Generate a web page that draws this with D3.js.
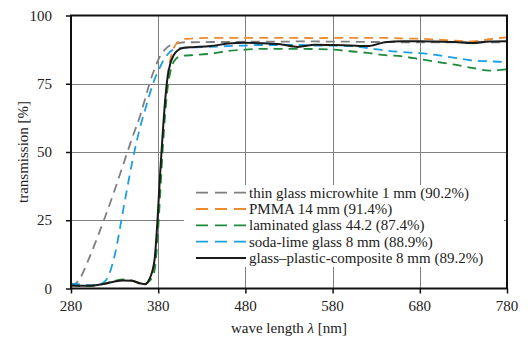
<!DOCTYPE html>
<html><head><meta charset="utf-8">
<style>
@font-face { font-family: "ChartSerif"; src: local("Liberation Serif"), local("LiberationSerif"), local("Tinos"), local("Times New Roman"); font-style: normal; font-weight: 400; }
@font-face { font-family: "ChartSerif"; src: local("Liberation Serif Italic"), local("LiberationSerif-Italic"), local("Tinos Italic"); font-style: italic; font-weight: 400; }
</style>
<script src="https://cdn.jsdelivr.net/npm/d3@7"></script></head>
<body style="margin:0">
<svg id="s" width="528" height="337"></svg>
<script>
// ---- data ----
const wavelengths = [280, 290, 300, 310, 320, 330, 340, 350, 360, 365, 370, 373, 376, 379, 382, 385, 388, 391, 394, 397, 400, 405, 410, 420, 440, 460, 480, 500, 520, 540, 560, 580, 600, 620, 640, 660, 680, 700, 720, 740, 760, 780];

const thinGlass = [0.6, 3.5, 10.5, 18.5, 27, 36, 45.5, 55, 64, 69.5, 75, 78, 80.5, 83, 85, 86.5, 87.6, 88.5, 89.1, 89.5, 89.8, 90, 90.2, 90.2, 90.3, 90.3, 90.4, 90.4, 90.4, 90.5, 90.5, 90.4, 90.4, 90.3, 90.3, 90.2, 90.2, 90.2, 90.2, 90.2, 90.2, 90.2];
const pmma = [1.2, 1.0, 1.0, 1.3, 1.9, 2.7, 3.1, 2.9, 1.8, 1.6, 3.0, 5, 9, 21, 38, 54, 68, 78, 84, 87.5, 89.3, 90.8, 91.4, 91.6, 91.8, 91.8, 91.8, 91.8, 91.8, 91.8, 91.7, 91.8, 91.8, 91.8, 91.8, 91.6, 91.5, 91.2, 90.8, 90.5, 91.3, 92];
const laminated = [1.2, 1.0, 1.0, 1.3, 1.9, 2.8, 3.3, 2.9, 1.8, 1.7, 2.8, 4, 7, 17, 33, 50, 64, 74, 79.5, 82.5, 84, 85, 85.3, 85.5, 86, 87, 87.5, 87.8, 87.8, 87.8, 87.7, 87.5, 86.9, 86.3, 85.5, 85, 84, 83, 82, 80.8, 79.8, 80.3];
const sodaLime = [1.8, 1.5, 1.2, 1.3, 3, 12, 29, 46, 60, 65.5, 71, 74, 76.8, 79, 81, 83, 84.5, 85.8, 86.8, 87.4, 87.8, 88, 88.2, 88.3, 88.5, 88.8, 89, 89.2, 89.2, 89.2, 89, 89, 88.8, 88.1, 87.2, 86.6, 86.2, 85.5, 84.5, 83.5, 83.2, 82.9];
const composite = [1.2, 1.0, 1.0, 1.3, 1.8, 2.6, 2.9, 2.8, 1.8, 1.6, 3.5, 6, 11, 24, 41, 56, 69, 78, 82.5, 85, 86.5, 87.8, 88.2, 88.4, 88.8, 89.7, 90, 89.8, 89.5, 88.5, 89.3, 89.2, 89, 88.8, 90.2, 90.6, 90.6, 90.5, 90.3, 89.9, 90.5, 90.6];

const seriesNames = [
  "thin glass microwhite 1 mm (90.2%)",
  "PMMA 14 mm (91.4%)",
  "laminated glass 44.2 (87.4%)",
  "soda-lime glass 8 mm (88.9%)",
  "glass\u2013plastic-composite 8 mm (89.2%)"
];
const seriesValues = [thinGlass, pmma, laminated, sodaLime, composite];
const seriesColors = ["#7f7f7f", "#f08a2e", "#1f8a3c", "#1b9fe0", "#1a1a1a"];
const seriesDashed = [true, true, true, true, false];

const xTicks = [280, 380, 480, 580, 680, 780];
const yTicks = [0, 25, 50, 75, 100];

// ---- layout ----
const svg = d3.select("#s");
const W = 528, H = 337;
const x = d3.scaleLinear().domain([280, 780]).range([71, W - 21]);
const y = d3.scaleLinear().domain([0, 100]).range([H - 48.5, 15.5]);
const SERIF_CSS = "font-family: 'Liberation Serif', 'ChartSerif', 'Tinos', 'Times New Roman', 'FreeSerif', serif !important;";

function label(parent, txt) {
  return parent.append("text")
    .attr("font-family", "Liberation Serif")
    .attr("font-size", 15)
    .attr("fill", "#222")
    .attr("style", SERIF_CSS)
    .text(txt);
}

// grid
const grid = svg.append("g");
grid.selectAll("line.v").data(xTicks.slice(1, -1)).join("line")
  .attr("x1", d => Math.round(x(d)) + 0.5).attr("x2", d => Math.round(x(d)) + 0.5)
  .attr("y1", y(100)).attr("y2", y(0))
  .attr("stroke", "#808080").attr("stroke-width", 1);
grid.selectAll("line.h").data(yTicks.slice(1, -1)).join("line")
  .attr("y1", d => Math.round(y(d)) + 0.5).attr("y2", d => Math.round(y(d)) + 0.5)
  .attr("x1", x(280)).attr("x2", x(780))
  .attr("stroke", "#808080").attr("stroke-width", 1);

// series
const line = d3.line().x((d, i) => x(wavelengths[i])).y(d => y(d)).curve(d3.curveMonotoneX);
seriesValues.forEach((vals, k) => {
  svg.append("path")
    .datum(vals)
    .attr("d", line)
    .attr("fill", "none")
    .attr("stroke", seriesColors[k])
    .attr("stroke-width", seriesDashed[k] ? 1.8 : 2)
    .attr("stroke-dasharray", seriesDashed[k] ? "9,6" : null)
    .attr("stroke-linejoin", "round");
});

// legend (white box covering gridlines)
const lg = svg.append("g");
lg.append("rect").attr("x", 184).attr("y", 185).attr("width", 320).attr("height", 82).attr("fill", "#fff");
seriesNames.forEach((name, k) => {
  const yy = 192.7 + k * 16.3;
  lg.append("line").attr("x1", 196).attr("x2", 246).attr("y1", yy).attr("y2", yy)
    .attr("stroke", seriesColors[k]).attr("stroke-width", seriesDashed[k] ? 1.8 : 2)
    .attr("stroke-dasharray", seriesDashed[k] ? "12,7" : null);
  label(svg, name).attr("x", 249).attr("y", yy + 5);
});

// axes (ticks drawn by d3, labels as plain text)
const xAxis = d3.axisBottom(x).tickValues(xTicks).tickSize(5).tickFormat("");
const yAxis = d3.axisLeft(y).tickValues(yTicks).tickSize(5).tickFormat("");
const gx = svg.append("g").attr("transform", `translate(0,${y(0)})`).call(xAxis);
const gy = svg.append("g").attr("transform", `translate(${x(280)},0)`).call(yAxis);
[gx, gy].forEach(g => {
  g.select(".domain").remove();
  g.attr("font-family", null);
  g.selectAll(".tick line").attr("stroke", "#111").attr("stroke-width", 1.5);
});
xTicks.forEach(t => {
  label(svg, String(t)).attr("x", x(t)).attr("y", y(0) + 22).attr("text-anchor", "middle");
});
yTicks.forEach(t => {
  label(svg, String(t)).attr("x", 52).attr("y", y(t) + 5).attr("text-anchor", "end");
});

// frame
svg.append("rect").attr("x", x(280)).attr("y", y(100))
  .attr("width", x(780) - x(280)).attr("height", y(0) - y(100))
  .attr("fill", "none").attr("stroke", "#111").attr("stroke-width", 2);

// axis titles
const xt = label(svg, null).attr("x", (x(280) + x(780)) / 2).attr("y", 333).attr("text-anchor", "middle");
xt.append("tspan").text("wave length ");
xt.append("tspan").attr("font-style", "italic").text("\u03bb");
xt.append("tspan").text(" [nm]");

label(svg, "transmission [%]")
  .attr("transform", `translate(28,${(y(0) + y(100)) / 2}) rotate(-90)`)
  .attr("text-anchor", "middle");
</script>
</body>
</html>
